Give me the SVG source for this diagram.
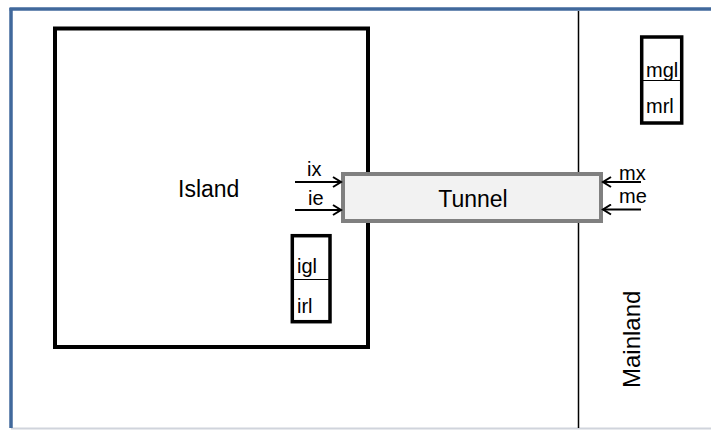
<svg xmlns="http://www.w3.org/2000/svg" width="711" height="430" viewBox="0 0 711 430">
<style>
.t{font-family:"Liberation Sans",Arial,sans-serif;fill:#000}
.big{font-size:23px}
.sm{font-size:20px}
.box{fill:none;stroke:#000;stroke-width:4}
.arr{stroke:#000;stroke-width:2;fill:none}
</style>
<defs>
<marker id="ah" markerWidth="12" markerHeight="12" refX="10" refY="6" orient="auto" markerUnits="userSpaceOnUse">
<path d="M2,1 L10,6 L2,11" fill="none" stroke="#000" stroke-width="2"/>
</marker>
</defs>
<rect x="0" y="0" width="711" height="430" fill="#fff"/>
<g id="frame">
<line x1="11" y1="428.5" x2="711" y2="428.5" stroke="#d0d4dc" stroke-width="2"/>
<line x1="9.5" y1="9" x2="711" y2="9" stroke="#41699c" stroke-width="3.5"/>
<line x1="11" y1="8" x2="11" y2="428" stroke="#41699c" stroke-width="3.5"/>
<line x1="578.5" y1="11" x2="578.5" y2="428" stroke="#000" stroke-width="1.5"/>
</g>
<g id="island">
<rect class="box" x="55" y="28.5" width="313" height="318.5"/>
<text class="t big" x="178" y="197">Island</text>
</g>
<g id="tunnel">
<rect x="343" y="174" width="258" height="47" fill="#f2f2f2" stroke="#808080" stroke-width="4"/>
<text class="t big" x="473" y="207" text-anchor="middle">Tunnel</text>
</g>
<g id="island-lights">
<rect x="292.3" y="235.7" width="37.7" height="86" fill="none" stroke="#000" stroke-width="3.5"/>
<line x1="292" y1="279.5" x2="330" y2="279.5" stroke="#000" stroke-width="1.2"/>
<text class="t sm" x="297" y="273">igl</text>
<text class="t sm" x="297" y="313">irl</text>
</g>
<g id="mainland-lights">
<rect x="641.7" y="37" width="40" height="86" fill="none" stroke="#000" stroke-width="3.5"/>
<line x1="641" y1="80.5" x2="682" y2="80.5" stroke="#000" stroke-width="1.2"/>
<text class="t sm" x="646" y="76.5">mgl</text>
<text class="t sm" x="646" y="113">mrl</text>
</g>
<g id="mainland">
<text class="t big" transform="translate(639.5,388) rotate(-90)" style="font-size:24px">Mainland</text>
</g>
<g id="connectors">
<line class="arr" x1="295" y1="182" x2="341" y2="182" marker-end="url(#ah)"/>
<line class="arr" x1="295" y1="210" x2="341" y2="210" marker-end="url(#ah)"/>
<line class="arr" x1="641" y1="182" x2="603" y2="182" marker-end="url(#ah)"/>
<line class="arr" x1="641" y1="209.5" x2="603" y2="209.5" marker-end="url(#ah)"/>
</g>
<g id="labels">
<text class="t sm" x="307" y="176">ix</text>
<text class="t sm" x="308" y="205">ie</text>
<text class="t sm" x="619" y="180">mx</text>
<text class="t sm" x="619" y="203">me</text>
</g>
</svg>
